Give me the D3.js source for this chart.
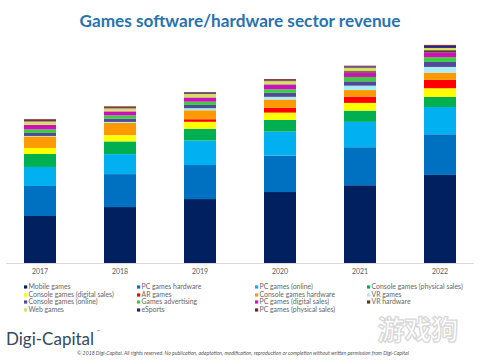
<!DOCTYPE html>
<html><head><meta charset="utf-8">
<script src="https://cdn.jsdelivr.net/npm/d3@7"></script>
<style>
html,body{margin:0;padding:0;background:#fff;}
svg{display:block;}
</style></head>
<body>
<script>
// ---- data (revenue, $B) ----
const years = ["2017","2018","2019","2020","2021","2022"];
const seriesNames = [
  "Mobile games","PC games hardware","PC games (online)","Console games (physical sales)",
  "Console games (digital sales)","AR games","Console games hardware","VR games",
  "Console games (online)","Games advertising","PC games (digital sales)","VR hardware",
  "Web games","eSports","PC games (physical sales)"
];
const mobileGames        = [38.8, 46.2, 52.8, 58.6, 64.2, 72.7];
const pcHardware         = [24.8, 27.2, 28.1, 30.1, 31.4, 33.6];
const pcOnline           = [15.7, 16.5, 20.2, 19.8, 20.9, 22.5];
const consolePhysical    = [10.7, 10.5,  9.7,  9.7,  9.3,  8.3];
const consoleDigital     = [ 5.0,  5.4,  5.8,  6.0,  6.4,  7.2];
const arGames            = [ 0.0,  0.4,  2.1,  3.9,  5.2,  6.9];
const consoleHardware    = [ 9.5,  9.5,  7.4,  6.9,  5.4,  6.0];
const vrGames            = [ 0.4,  0.8,  1.7,  2.2,  3.6,  4.7];
const consoleOnline      = [ 2.5,  2.7,  2.7,  3.3,  3.6,  4.1];
const gamesAdvertising   = [ 2.9,  2.7,  2.7,  2.9,  3.6,  3.9];
const pcDigital          = [ 3.7,  3.3,  3.3,  3.7,  3.6,  3.9];
const vrHardware         = [ 0.0,  0.0,  0.2,  0.4,  1.2,  1.9];
const webGames           = [ 2.9,  2.5,  2.9,  2.7,  2.9,  1.9];
const eSports            = [ 0.4,  0.4,  0.6,  0.4,  0.8,  1.7];
const pcPhysical         = [ 1.4,  1.2,  0.8,  1.2,  0.8,  0.8];

const seriesValues = [mobileGames,pcHardware,pcOnline,consolePhysical,consoleDigital,arGames,
  consoleHardware,vrGames,consoleOnline,gamesAdvertising,pcDigital,vrHardware,webGames,eSports,pcPhysical];

const colors = ["#002060","#0070C0","#00B0F0","#00B050","#FFFF00","#FF0000","#FF9900","#A8EEF4",
  "#4F4A9A","#3DCC3D","#CC11BB","#5A3A1E","#D6DE6A","#23237E","#7E1E22"];

// ---- build table ----
const table = years.map((y,i)=>{
  const row = {year:y};
  seriesNames.forEach((s,j)=>row[s]=seriesValues[j][i]);
  return row;
});
const stacked = d3.stack().keys(seriesNames)(table);

const W=480,H=360;
const svg = d3.select("body").append("svg").attr("width",W).attr("height",H)
  .style("font-family","Lato, 'Open Sans', sans-serif");

// title
svg.append("text").attr("x",240).attr("y",27).attr("text-anchor","middle")
  .attr("font-size",17.2).attr("font-weight","bold").attr("fill","#2A72AE")
  .text("Games software/hardware sector revenue");

const x = d3.scaleBand().domain(years).range([0,480]).paddingInner(0.6).paddingOuter(0.3);
const y = d3.scaleLinear().domain([0,180]).range([263,45]);
const color = d3.scaleOrdinal().domain(seriesNames).range(colors);

// baseline
svg.append("line").attr("x1",6).attr("x2",474).attr("y1",y(0)+0.5).attr("y2",y(0)+0.5)
  .attr("stroke","#d9d9d9").attr("stroke-width",1);

svg.append("g").selectAll("g").data(stacked).join("g")
  .attr("fill",d=>color(d.key))
  .selectAll("rect").data(d=>d).join("rect")
  .attr("x",d=>x(d.data.year))
  .attr("width",x.bandwidth())
  .attr("y",d=>y(d[1]))
  .attr("height",d=>Math.max(0,y(d[0])-y(d[1])));

// x axis
const xa = svg.append("g").attr("transform",`translate(0,${y(0)})`)
  .call(d3.axisBottom(x).tickSize(0).tickPadding(6));
xa.select(".domain").remove();
xa.selectAll("text").attr("font-size",7).attr("fill","#595959")
  .attr("font-family","Lato, 'Open Sans', sans-serif");

// watermark (drawn beneath legend text)
svg.append("text").attr("x",418).attr("y",340).attr("text-anchor","middle")
  .attr("font-size",27).attr("font-weight","bold").attr("fill","#ffffff")
  .attr("stroke","#d8d8d8").attr("stroke-width",1.3)
  .attr("font-family","'Noto Sans CJK SC', sans-serif").text("游戏狗");

// legend (row-major, 4 columns)
const colX=[24,137,255,367], rowY=[287,295,302,310];
const lg = svg.append("g").selectAll("g").data(seriesNames).join("g")
  .attr("transform",(d,i)=>`translate(${colX[i%4]},${rowY[Math.floor(i/4)]})`);
lg.append("rect").attr("x",0).attr("y",-1.6).attr("width",3.2).attr("height",3.2).attr("fill",d=>color(d));
lg.append("text").attr("x",4.5).attr("y",2.3).attr("font-size",6.9).attr("fill","#666").text(d=>d);

// logo
svg.append("text").attr("x",6).attr("y",345).attr("font-size",17).attr("fill","#34495e")
  .attr("font-family","Lato, 'Open Sans', sans-serif").text("Digi-Capital");
svg.append("text").attr("x",97).attr("y",333).attr("font-size",4).attr("fill","#34495e").text("™");

// copyright
svg.append("text").attr("x",243).attr("y",355).attr("text-anchor","middle")
  .attr("font-size",5.2).attr("font-style","italic").attr("fill","#555")
  .text("© 2018 Digi-Capital. All rights reserved. No publication, adaptation, modification, reproduction or completion without written permission from Digi-Capital");
</script>
</body></html>
